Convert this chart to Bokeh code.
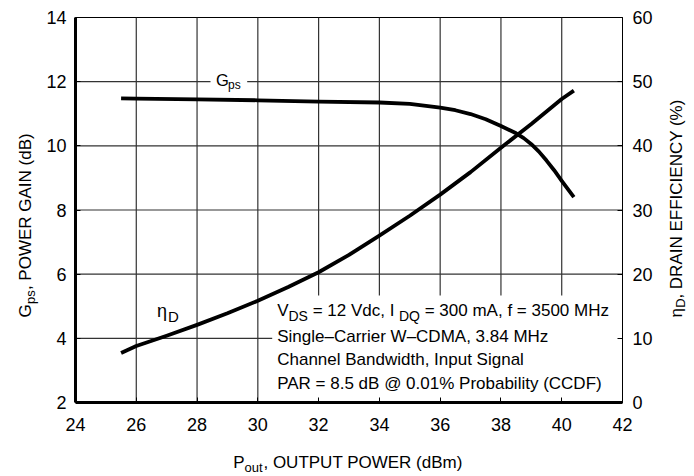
from math import pi
from bokeh.plotting import figure
from bokeh.models import Range1d, LinearAxis, FixedTicker, Label
from bokeh.embed import file_html
from bokeh.resources import INLINE

# ---- data ----
gps_pout = [25.5, 26, 28, 30, 32, 34, 35, 36, 36.5, 37, 37.5, 38, 38.5, 38.75, 39,
            39.25, 39.5, 39.75, 40, 40.4]
gps_db = [11.48, 11.47, 11.45, 11.42, 11.38, 11.35, 11.31, 11.19, 11.11, 10.99, 10.83,
          10.62, 10.39, 10.24, 10.05, 9.82, 9.54, 9.24, 8.91, 8.40]
eff_pout = [25.5, 26, 27, 28, 29, 30, 31, 32, 33, 34, 35, 36, 37, 38, 39, 40, 40.4]
eff_pct = [7.7, 8.8, 10.4, 12.1, 13.9, 15.85, 18.0, 20.3, 23.0, 26.0, 29.1, 32.4, 35.9,
           39.7, 43.4, 47.3, 48.6]
x_ticks = [24, 26, 28, 30, 32, 34, 36, 38, 40, 42]
gain_ticks = [2, 4, 6, 8, 10, 12, 14]
eff_ticks = [0, 10, 20, 30, 40, 50, 60]

FONT = "Liberation Sans"
NB = "\u00a0"

W, H = 694, 476
FL, FT, FW, FH = 75, 17, 547, 385
X0, X1, Y0, Y1 = 24, 42, 2, 14

p = figure(width=W, height=H, x_range=Range1d(X0, X1), y_range=Range1d(Y0, Y1),
           output_backend="svg", toolbar_location=None,
           min_border_left=FL, min_border_right=W - FL - FW,
           min_border_top=FT, min_border_bottom=H - FT - FH)
p.extra_y_ranges = {"eff": Range1d(0, 60)}
p.background_fill_color = "white"
p.border_fill_color = "white"
p.outline_line_color = "black"
p.outline_line_width = 1
p.grid.visible = False

p.xaxis.ticker = FixedTicker(ticks=x_ticks)
p.yaxis.ticker = FixedTicker(ticks=gain_ticks)
right = LinearAxis(y_range_name="eff", ticker=FixedTicker(ticks=eff_ticks))
p.add_layout(right, "right")

for ax in [p.xaxis[0], p.yaxis[0], right]:
    ax.major_tick_in = 5
    ax.major_tick_out = 0
    ax.major_tick_line_color = "black"
    ax.minor_tick_line_color = None
    ax.major_label_text_font = FONT
    ax.major_label_text_font_size = "18px"
    ax.major_label_text_color = "black"
    ax.axis_line_color = "black"
p.xaxis[0].axis_line_width = 3
p.yaxis[0].axis_line_width = 3
right.axis_line_width = 1
p.xaxis[0].major_label_standoff = 15
p.yaxis[0].major_label_standoff = 9
right.major_label_standoff = 10

# grid lines at the tick positions
inner_x = x_ticks[1:-1]
inner_y = gain_ticks[1:-1]
p.multi_line(xs=[[t, t] for t in inner_x], ys=[[Y0, Y1] for _ in inner_x],
             line_color="#333333", line_width=1.2)
p.multi_line(xs=[[X0, X1] for _ in inner_y], ys=[[t, t] for t in inner_y],
             line_color="#333333", line_width=1.2)


def dx(xi):
    return X0 + (xi - FL) * (X1 - X0) / FW


def dy(yi):
    return Y1 - (yi - FT) * (Y1 - Y0) / FH


# white patches behind the annotation texts
p.quad(left=[dx(271.7), dx(210)], right=[X1, dx(246.7)], bottom=[Y0, dy(84)],
       top=[dy(295), dy(78)], fill_color="white", line_color=None)

p.line(gps_pout, gps_db, line_color="black", line_width=3.8, line_join="round")
p.line(eff_pout, eff_pct, y_range_name="eff", line_color="black", line_width=3.8,
       line_join="round")


def lab(text, xi, yi, size, angle=0.0, place="center"):
    shift = 0.35 * size
    if angle == 0.0:
        yi -= shift
    else:
        xi -= shift
    lb = Label(x=dx(xi), y=dy(yi), text=text, angle=angle,
               text_font=FONT, text_font_size=f"{size}px",
               text_color="black", text_align="left",
               text_baseline="alphabetic")
    if place == "center":
        p.add_layout(lb)
    else:
        p.add_layout(lb, place)


# axis titles (outside the frame: placed in side panels so they are not clipped)
lab("G" + NB * 3 + ", POWER GAIN (dB)", 31, 317, 17, pi / 2, "left")
lab("ps", 34.5, 303.5, 13, pi / 2, "left")
lab("\u03b7" + NB * 2 + ", DRAIN EFFICIENCY (%)", 681.5, 317, 17, pi / 2, "right")
lab("D", 685, 307.3, 13, pi / 2, "above")
lab("P" + NB * 4 + ", OUTPUT POWER (dBm)", 232.7, 468, 17, 0, "below")
lab("out", 244, 472, 13, 0, "right")
# curve labels
lab("G", 215.5, 85.7, 16.5)
lab("ps", 227.5, 88.3, 12)
lab("\u03b7", 156.5, 317, 18)
lab("D", 167.5, 321.7, 15)
# conditions box
lab("V", 276.7, 316.3, 17)
lab("DS", 288, 320.5, 14)
lab(NB + "=" + NB + "12 Vdc, I", 307.5, 316.3, 17)
lab("DQ", 398.5, 320.5, 14)
lab(NB + "=" + NB + "300 mA, f = 3500 MHz", 419.5, 316.3, 17)
lab("Single\u2013Carrier W\u2013CDMA, 3.84 MHz", 276.7, 341.5, 17)
lab("Channel Bandwidth, Input Signal", 276.7, 365.3, 17)
lab("PAR = 8.5 dB @ 0.01% Probability (CCDF)", 276.7, 389.3, 17)

open("out.html", "w").write(file_html(p, INLINE))
